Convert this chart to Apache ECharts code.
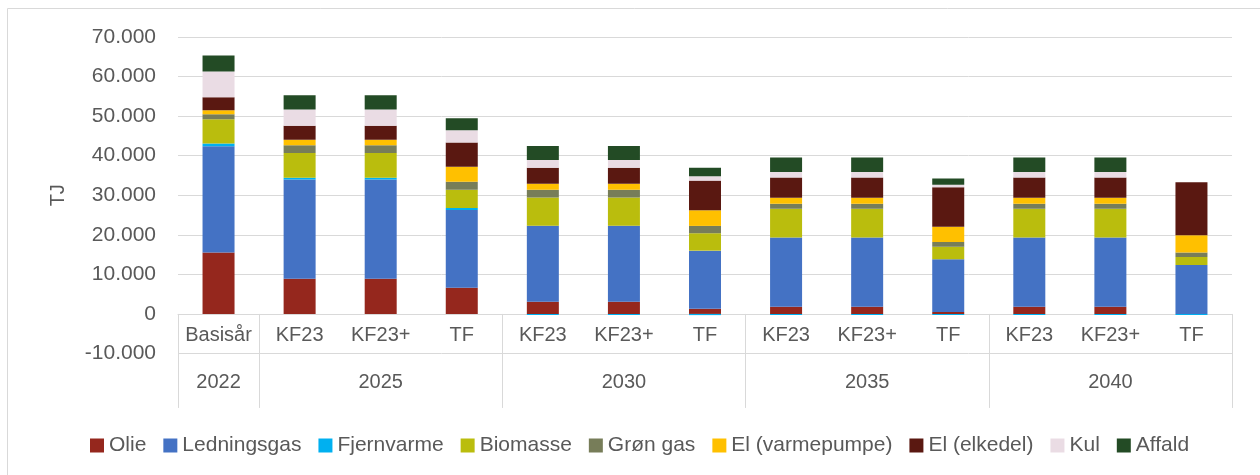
<!DOCTYPE html>
<html>
<head>
<meta charset="utf-8">
<script src="https://cdn.jsdelivr.net/npm/echarts@6/dist/echarts.min.js"></script>
<style>
  html, body { margin: 0; padding: 0; background: #fff; }
  #chart { width: 1260px; height: 475px; }
</style>
</head>
<body>
<div id="chart"></div>
<script>
// kategorier (scenarie) og årsgrupper
const scenarios = ['Basisår', 'KF23', 'KF23+', 'TF', 'KF23', 'KF23+', 'TF', 'KF23', 'KF23+', 'TF', 'KF23', 'KF23+', 'TF']
const years = ['2022', '2025', '2030', '2035', '2040']
const groupSizes = [1, 3, 3, 3, 3]

const yTicks = { min: -10000, max: 70000, interval: 10000 }

// energiforbrug i TJ
const olie = [15500, 8900, 8900, 6600, 3100, 3100, 1300, 1800, 1800, 500, 1800, 1800, 0]
const ledningsgas = [26900, 25100, 25100, 19700, 19200, 19200, 14700, 17500, 17500, 13300, 17500, 17500, 12400]
const fjernvarme = [700, 400, 400, 500, -300, -300, -300, -300, -300, -300, -300, -300, -300]
const biomasse = [6100, 6250, 6250, 4600, 7100, 7100, 4400, 7300, 7300, 3200, 7300, 7300, 2000]
const groenGas = [1260, 2000, 2000, 2000, 2000, 2000, 1850, 1250, 1250, 1200, 1250, 1250, 1100]
const elVarmepumpe = [1000, 1350, 1350, 3800, 1500, 1500, 3950, 1500, 1500, 3850, 1500, 1500, 4400]
const elElkedel = [3300, 3550, 3550, 6150, 4050, 4050, 7500, 5150, 5150, 10000, 5150, 5150, 13400]
const kul = [6550, 4100, 4100, 3100, 1950, 1950, 1100, 1350, 1350, 600, 1350, 1350, 0]
const affald = [4000, 3600, 3600, 3000, 3550, 3550, 2150, 3700, 3700, 1600, 3700, 3700, 0]

const seriesDefs = [
  { name: 'Olie', data: olie, color: '#95271d' },
  { name: 'Ledningsgas', data: ledningsgas, color: '#4472c4' },
  { name: 'Fjernvarme', data: fjernvarme, color: '#00b0f0' },
  { name: 'Biomasse', data: biomasse, color: '#babd0d' },
  { name: 'Grøn gas', data: groenGas, color: '#777d59' },
  { name: 'El (varmepumpe)', data: elVarmepumpe, color: '#ffc000' },
  { name: 'El (elkedel)', data: elElkedel, color: '#5a1811' },
  { name: 'Kul', data: kul, color: '#eadce4' },
  { name: 'Affald', data: affald, color: '#234b25' },
]

const font = 'Liberation Sans, Arial, sans-serif'
const textColor = '#595959'
const lineColor = '#d9d9d9'

// gruppegrænser (start-index) og midterste index pr. år
const groupStarts = []
const yearAt = {}
let idx = 0
groupSizes.forEach((n, i) => {
  groupStarts.push(idx)
  yearAt[idx + Math.floor(n / 2)] = years[i]
  idx += n
})

const fmt = (v) => {
  const s = Math.abs(v).toString().replace(/\B(?=(\d{3})+(?!\d))/g, '.')
  return v < 0 ? '-' + s : s
}

// afstand fra gridbund (-10.000) op til 0-linjen
const zeroOffset = (475 - 121.5 - 37) / ((yTicks.max - yTicks.min) / yTicks.interval)

const chart = echarts.init(document.getElementById('chart'))

chart.setOption({
  animation: false,
  textStyle: { fontFamily: font },
  graphic: [
    {
      type: 'rect',
      z: -1,
      shape: { x: 7.5, y: 8.5, width: 1300, height: 600 },
      style: { fill: 'none', stroke: lineColor, lineWidth: 1 },
    },
  ],
  grid: { left: 178, right: 28, top: 37, bottom: 121.5 },
  legend: {
    left: 85,
    top: 430,
    icon: 'rect',
    itemWidth: 14,
    itemHeight: 14,
    itemGap: 17,
    textStyle: { fontSize: 21, color: textColor, fontFamily: font },
    data: seriesDefs.map((s) => s.name),
  },
  xAxis: [
    {
      type: 'category',
      data: scenarios,
      position: 'bottom',
      offset: -zeroOffset,
      axisLine: { onZero: false, lineStyle: { color: lineColor, width: 1 } },
      axisTick: {
        show: true,
        interval: (i) => groupStarts.includes(i),
        length: 94,
        lineStyle: { color: lineColor, width: 1 },
      },
      axisLabel: { interval: 0, margin: 12, fontSize: 20, color: textColor, fontFamily: font },
    },
    {
      type: 'category',
      data: scenarios,
      position: 'bottom',
      axisLine: { show: false, onZero: false },
      axisTick: { show: false },
      splitLine: { show: false },
      axisLabel: {
        interval: 0,
        margin: 19,
        fontSize: 20,
        color: textColor,
        fontFamily: font,
        formatter: (v, i) => yearAt[i] || '',
      },
    },
  ],
  yAxis: {
    type: 'value',
    min: yTicks.min,
    max: yTicks.max,
    interval: yTicks.interval,
    name: 'TJ',
    nameLocation: 'middle',
    nameGap: 110,
    nameRotate: 90,
    nameTextStyle: { fontSize: 20, color: textColor, fontFamily: font },
    axisLine: { show: false },
    axisTick: { show: false },
    axisLabel: { margin: 22, fontSize: 21, color: textColor, fontFamily: font, formatter: fmt },
    splitLine: { lineStyle: { color: lineColor, width: 1 } },
  },
  series: seriesDefs.map((s) => ({
    name: s.name,
    type: 'bar',
    stack: 'total',
    barWidth: 32,
    data: s.data,
    itemStyle: { color: s.color },
  })),
})
</script>
</body>
</html>
